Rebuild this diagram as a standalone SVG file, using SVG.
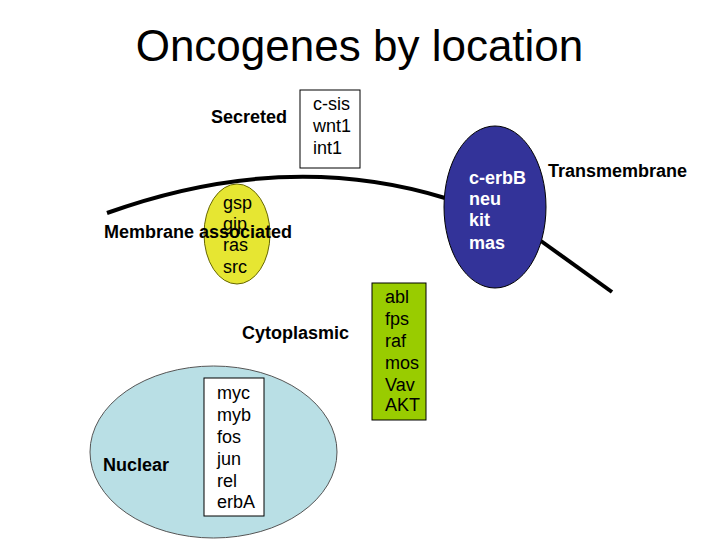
<svg xmlns="http://www.w3.org/2000/svg" width="720" height="540" viewBox="0 0 720 540">
<style>
text{font-family:"Liberation Sans",Arial,sans-serif;font-size:18px;fill:#000}
.b{font-weight:bold}
.w{fill:#fff;font-weight:bold}
.title{font-size:44px}
.mem{fill:none;stroke:#000;stroke-width:4;stroke-linecap:butt}
</style>
<rect width="720" height="540" fill="#fff"/>
<text class="title" x="359.5" y="61" text-anchor="middle">Oncogenes by location</text>
<g id="connectors">
<path class="mem" d="M107,213 Q285,149 445,198"/>
<path class="mem" d="M541,241 L612,292"/>
</g>
<g id="secreted">
<text class="b" x="211" y="123">Secreted</text>
<rect x="300" y="90" width="60" height="78" fill="#fff" stroke="#000" stroke-width="1"/>
<text x="313" y="110">c-sis</text>
<text x="313" y="132">wnt1</text>
<text x="313" y="154">int1</text>
</g>
<g id="membrane-associated">
<ellipse cx="237" cy="234" rx="33" ry="50" fill="#e6e632" stroke="#666600" stroke-width="1"/>
<text x="223" y="209">gsp</text>
<text x="223" y="230">gip</text>
<text x="223" y="251">ras</text>
<text x="223" y="273">src</text>
<text class="b" x="104" y="238">Membrane associated</text>
</g>
<g id="transmembrane">
<ellipse cx="495" cy="207" rx="51" ry="81" fill="#333399" stroke="#000" stroke-width="1"/>
<text class="w" x="469" y="184">c-erbB</text>
<text class="w" x="469" y="205">neu</text>
<text class="w" x="469" y="226">kit</text>
<text class="w" x="469" y="249">mas</text>
<text class="b" x="548" y="177">Transmembrane</text>
</g>
<g id="cytoplasmic">
<text class="b" x="242" y="339">Cytoplasmic</text>
<rect x="372" y="283" width="54" height="137" fill="#99cc00" stroke="#000" stroke-width="1"/>
<text x="385" y="303">abl</text>
<text x="385" y="325">fps</text>
<text x="385" y="347">raf</text>
<text x="385" y="369">mos</text>
<text x="385" y="391">Vav</text>
<text x="385" y="411">AKT</text>
</g>
<g id="nuclear">
<ellipse cx="213.5" cy="452" rx="123.5" ry="86" fill="#b9dfe5" stroke="#555" stroke-width="1"/>
<text class="b" x="103" y="471">Nuclear</text>
<rect x="204" y="378" width="60" height="138" fill="#fff" stroke="#000" stroke-width="1"/>
<text x="217" y="399">myc</text>
<text x="217" y="421">myb</text>
<text x="217" y="443">fos</text>
<text x="217" y="465">jun</text>
<text x="217" y="487">rel</text>
<text x="217" y="508">erbA</text>
</g>
</svg>
